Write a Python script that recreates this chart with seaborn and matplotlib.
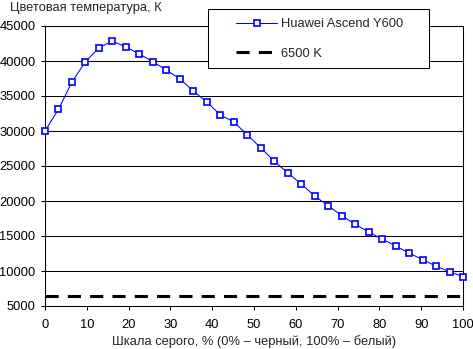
import matplotlib
matplotlib.use("Agg")
import matplotlib.pyplot as plt
from matplotlib.patches import Rectangle
import numpy as np
import pandas as pd
import seaborn as sns

# ---- data ----
n_points = 32
gray_pct = [i * 100 / 31 for i in range(n_points)]
temp_k = [30000, 33100, 37000, 39900, 41900, 42850, 42000, 41000,
          39900, 38700, 37450, 35700, 34150, 32300, 31300, 29450,
          27600, 25700, 24000, 22450, 20700, 19350, 17900, 16700,
          15570, 14570, 13570, 12570, 11620, 10700, 9900, 9200]
ref_x = [0, 100]
ref_y = [6500, 6500]
series_name = "Huawei Ascend Y600"
ref_name = "6500 K"
y_ticks = [5000, 10000, 15000, 20000, 25000, 30000, 35000, 40000, 45000]
x_ticks = [0, 10, 20, 30, 40, 50, 60, 70, 80, 90, 100]
title_text = "Цветовая температура, К"
xlabel_text = "Шкала серого, % (0% – черный, 100% – белый)"

sns.set_style("white")
plt.rcParams['font.family'] = ['Liberation Sans', 'DejaVu Sans']
plt.rcParams['font.size'] = 9

W, H = 473, 349
fig = plt.figure(figsize=(W / 100, H / 100), dpi=100)
L, R, T, B = 45, 463, 26, 306
ax = fig.add_axes([L / W, 1 - B / H, (R - L) / W, (B - T) / H])

df = pd.DataFrame({"x": gray_pct, "y": temp_k})
dref = pd.DataFrame({"x": ref_x, "y": ref_y})

sns.lineplot(data=df, x="x", y="y", ax=ax, color="#0000ff", lw=0.75,
             marker="s", markersize=6.8, markerfacecolor="white",
             markeredgecolor="#0000ff", markeredgewidth=1.2,
             label=series_name, zorder=4, clip_on=False)
sns.lineplot(data=dref, x="x", y="y", ax=ax, color="black", lw=2.2,
             linestyle=(0, (4.3, 3.0)), label=ref_name, zorder=3)

ax.set_xlim(0, 100)
ax.set_ylim(5000, 45000)
ax.set_xticks(x_ticks)
ax.set_yticks(y_ticks)
ax.set_xticklabels([str(v) for v in x_ticks])
ax.set_yticklabels([str(v) for v in y_ticks])
ax.set_xlabel(xlabel_text, fontsize=9.3, labelpad=3)
ax.set_ylabel("")
ax.grid(True, axis="y", color="black", lw=0.75)
ax.set_axisbelow(True)
for s in ax.spines.values():
    s.set_visible(True)
    s.set_color("black")
    s.set_linewidth(0.75)
ax.tick_params(axis="both", direction="out", length=3, width=0.75,
               color="black", labelsize=9.3, labelcolor="black",
               bottom=True, left=True)
ax.tick_params(axis="y", pad=3.8)
ax.tick_params(axis="x", pad=6)

fig.text(10 / W, 1 - 8 / H, title_text, fontsize=9.3, va="center", ha="left")

# legend
handles, labels = ax.get_legend_handles_labels()
ax.get_legend().remove()
box = Rectangle((208 / W, 1 - 68 / H), 221 / W, 59 / H, transform=fig.transFigure,
                facecolor="white", edgecolor="black", lw=0.75, zorder=10)
fig.patches.append(box)
for h in handles:
    if h.get_marker() == "s":
        h.set_markersize(5)
leg = fig.legend(handles, labels, loc="upper left",
                 bbox_to_anchor=(236 / W, 1 - 18 / H), frameon=False,
                 borderpad=0, borderaxespad=0, handlelength=3.2,
                 handletextpad=0.3, labelspacing=1.35, fontsize=9.3)
leg.set_zorder(11)

fig.savefig("out.png", dpi=100)
